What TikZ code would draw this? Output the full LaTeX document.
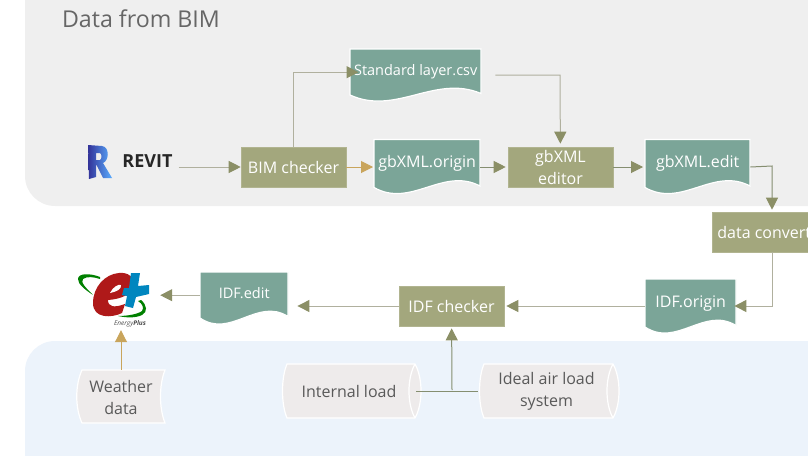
\documentclass[tikz,border=0pt]{standalone}
\usepackage{fontspec}
\setmainfont{Open Sans}
\usetikzlibrary{arrows.meta}
\definecolor{docfill}{HTML}{7BA598}
\definecolor{boxfill}{HTML}{A3A77D}
\definecolor{storefill}{HTML}{EEEBEB}
\definecolor{panelgray}{HTML}{EFEFEF}
\definecolor{panelblue}{HTML}{ECF3FB}
\definecolor{linegray}{HTML}{B0B09E}
\definecolor{lineolive}{HTML}{858E70}
\definecolor{lineorange}{HTML}{C9A55C}
\definecolor{tipolive}{HTML}{8B8F66}
\tikzset{
  boxnode/.style={fill=boxfill, draw=boxfill!85!white, line width=.6pt, inner sep=0pt, text=white, font=\fontsize{16}{22}\selectfont, align=center},
  doctext/.style={inner sep=0pt, text=white, font=\fontsize{16}{20}\selectfont},
  storetext/.style={inner sep=0pt, text=black!65, font=\fontsize{16}{22}\selectfont, align=center},
  flow/.style={line width=1pt, color=linegray, -{Triangle[length=12pt,width=12pt,color=tipolive]}},
  flowolive/.style={flow, color=lineolive},
  floworange/.style={line width=1pt, color=lineorange, -{Triangle[length=12pt,width=12pt,color=lineorange]}},
}
\newcommand{\docnode}[6]{
\draw[fill=docfill, draw=white, line width=1.2pt] (#2,#3) -- ({#2+#4},#3) -- ({#2+#4},{#3+#5-1.5}) .. controls ({#2+.65*#4},{#3+#5-21}) and ({#2+.35*#4},{#3+#5+21}) .. (#2,{#3+#5}) -- cycle;
\node[doctext, anchor=north west, minimum width=#4pt, minimum height=#5pt] (#1) at (#2,#3){\raisebox{4pt}{#6}};
}
\newcommand{\cylnode}[6]{
\draw[fill=storefill, draw=white, line width=1.2pt] ({#2+6},#4) -- ({#3-8},#4) .. controls (#3,{#4+14}) and (#3,{#5-14}) .. ({#3-8},#5) -- ({#2+6},#5) .. controls (#2,{#5-14}) and (#2,{#4+14}) .. ({#2+6},#4) -- cycle;
\draw[draw=white, line width=1.2pt] ({#3-8},#4) .. controls ({#3-16},{#4+14}) and ({#3-16},{#5-14}) .. ({#3-8},#5);
\node[storetext, minimum width={(#3-#2)*1pt}, minimum height={(#5-#4)*1pt}] (#1) at ({(#2+#3)/2-3},{(#4+#5)/2}){#6};
}
\begin{document}
\begin{tikzpicture}[x=1pt, y=-1pt]
\useasboundingbox (0,0) rectangle (808,455);
\clip (0,0) rectangle (808,455);
\fill[color=panelgray, rounded corners=30pt] (25,-40) rectangle (860,206);
\fill[color=panelblue, rounded corners=30pt] (25,341) rectangle (860,500);
\node[inner sep=0pt, text=black!60, font=\fontsize{23.2}{26}\selectfont] (title) at (141,19){Data from BIM};

\shade[left color=blue!50!black!80, right color=cyan!50!blue!65, even odd rule] (88,145) -- (102,146) .. controls (110,147) and (109,161) .. (103,163) -- (112,178) -- (103,178) -- (96,164) -- (96,177) -- (89,179) -- cycle (96,153) -- (96,160) -- (100,160) .. controls (102,159) and (102,154) .. (100,153) -- cycle;
\node[inner sep=0pt, text=black!85, font=\fontsize{18}{20}\selectfont\bfseries] (revit) at (147.5,161){REVIT};

\node[boxnode, minimum width=105pt, minimum height=40pt] (bimchecker) at (293.5,167){BIM checker};
\node[boxnode, minimum width=105pt, minimum height=40pt] (gbxmleditor) at (560.5,167){gbXML\\editor};
\node[boxnode, minimum width=120pt, minimum height=40pt] (dataconverter) at (772,232){data converter};
\node[boxnode, minimum width=105pt, minimum height=40pt] (idfchecker) at (451.5,306){IDF checker};

\docnode{standardlayer}{350}{49}{131}{46}{\fontsize{14.5}{20}\selectfont Standard layer.csv}
\docnode{gbxmlorigin}{374}{139.5}{106}{48}{gbXML.origin}
\docnode{gbxmledit}{645}{139.5}{105}{48}{gbXML.edit}
\docnode{idfedit}{200}{272}{88}{46}{\fontsize{14.5}{20}\selectfont IDF.edit}
\docnode{idforigin}{645}{279}{91}{48}{IDF.origin}

\cylnode{internalload}{281}{423}{364}{418}{Internal load}
\cylnode{idealair}{478}{621}{364}{418}{Ideal air load\\system}

\draw[fill=storefill, draw=white, line width=1.2pt] (82,370) -- (165,370) .. controls (159,385) and (159,408) .. (165,423) -- (82,423) .. controls (75,408) and (75,385) .. (82,370) -- cycle;
\node[storetext, minimum width=88pt, minimum height=54pt] (weatherdata) at (121,397){Weather\\data};

\fill[color=green!50!black] (100,277) .. controls (90,273) and (78,273) .. (78,279) .. controls (78,284) and (84,289) .. (93,295) .. controls (86,288) and (80,282) .. (83,279) .. controls (87,276) and (94,277) .. (100,279) -- cycle;
\fill[color=green!50!black] (141,300) .. controls (147,305) and (148,312) .. (142,315) .. controls (136,318) and (127,318) .. (118,316) .. controls (128,316) and (138,314) .. (142,311) .. controls (144,308) and (143,304) .. (138,301) -- cycle;
\fill[color=red!65!black!90] (119,273) .. controls (128,272) and (135,277) .. (133,286) .. controls (132,294) and (122,299) .. (108,300) .. controls (108,307) and (114,308) .. (125,304) -- (122,313) .. controls (112,318) and (93,319) .. (93,303) .. controls (93,287) and (105,274) .. (119,273) -- cycle;
\fill[color=white] (110,293) .. controls (113,287) and (118,284) .. (121,285) .. controls (122,289) and (116,292) .. (110,293) -- cycle;
\fill[color=blue!30!cyan!75!black] (131,273) -- (140,273) -- (138,286) -- (149,285) -- (149,294) -- (136,297) -- (133,308) -- (125,306) -- (127,296) -- (122,295) -- (124,288) -- (129,288) -- cycle;
\node[inner sep=0pt, text=black!70, font=\fontsize{6.5}{7}\selectfont\itshape] (energyplus) at (130,324){Energy\textbf{Plus}};
\node[inner sep=0pt, minimum width=84pt, minimum height=58pt] (epluslogo) at (120,301){};

\coordinate (layercorner) at (560,75);
\coordinate (loadjoin) at (452,390);
\coordinate (editcorner) at (772,166);
\coordinate (origincorner) at (772,306);
\draw[flow, shorten <=6pt] (revit.east |- bimchecker) -- (bimchecker);
\draw[flow] (bimchecker) -- (bimchecker |- standardlayer.center) -- +(65,0);
\draw[flow, shorten <=14pt, shorten >=3pt] (standardlayer.east |- layercorner) -- (layercorner) -- (gbxmleditor);
\draw[floworange, shorten >=1pt] (bimchecker) -- (gbxmlorigin.west |- bimchecker);
\draw[flowolive, shorten >=2pt] (gbxmlorigin.east |- gbxmleditor) -- (gbxmleditor);
\draw[flowolive, shorten >=2pt] (gbxmleditor) -- (gbxmledit.west |- gbxmleditor);
\draw[flowolive, shorten >=2pt] (gbxmledit.east |- gbxmleditor) -- (editcorner) -- (dataconverter);
\draw[flow, shorten >=-2pt] (dataconverter) -- (origincorner) -- (idforigin.east |- idfchecker);
\draw[flow, shorten >=2pt] (idforigin.west |- idfchecker) -- (idfchecker);
\draw[flow, shorten >=9pt] (idfchecker) -- (idfedit.east |- idfchecker);
\draw[flow, shorten >=-2pt] (idfedit.west) -- (idfedit.west -| epluslogo.east);
\draw[floworange] (weatherdata) -- (weatherdata |- epluslogo.south);
\draw[lineolive, line width=1pt, shorten <=-4pt, shorten >=-3pt] (internalload.east) -- (idealair.west);
\draw[flowolive, shorten >=2pt] (loadjoin) -- (idfchecker);
\end{tikzpicture}
\end{document}
